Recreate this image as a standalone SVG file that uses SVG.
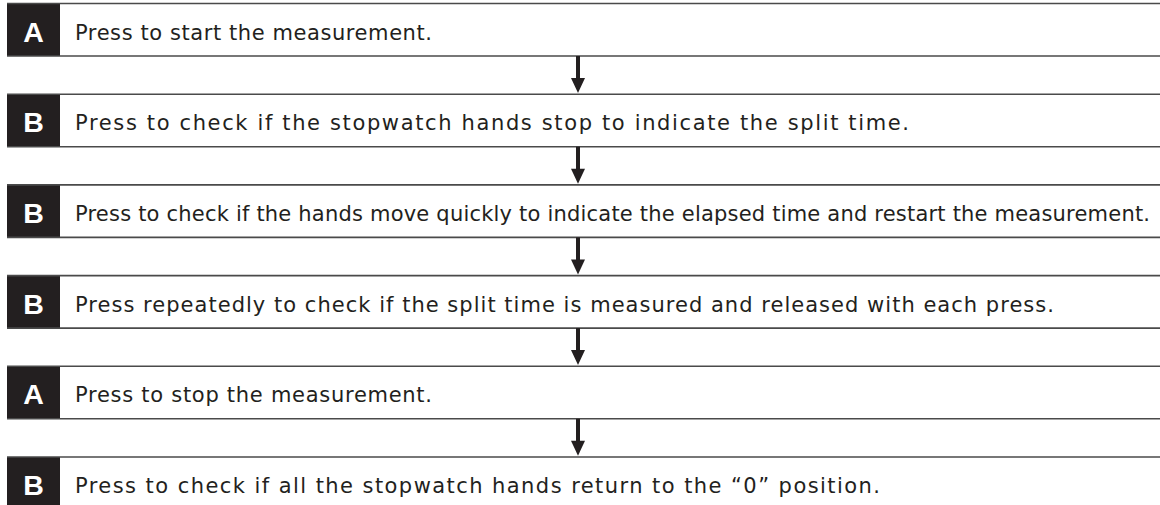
<svg xmlns="http://www.w3.org/2000/svg" width="1160" height="505" viewBox="0 0 1160 505">
<style>
.rule{stroke:#4a4a4a;stroke-width:1.6;fill:none}
.tag{fill:#231f20}
.tl{font-family:"Liberation Sans",Arial,sans-serif;font-weight:bold;font-size:28.5px;fill:#fff;text-anchor:middle}
.tx{font-family:"DejaVu Sans","Liberation Sans",sans-serif;font-size:21px;fill:#231f20}
.shaft{stroke:#231f20;stroke-width:4}
.head{fill:#231f20}
</style>
<rect width="1160" height="505" fill="#fff"/>
<g id="step1" transform="translate(0,3.5)">
<rect class="tag" x="7" y="0" width="53" height="52.5"/>
<line class="rule" x1="7" y1="0" x2="1160" y2="0"/><line class="rule" x1="7" y1="52.5" x2="1160" y2="52.5"/>
<text class="tl" x="33.5" y="38">A</text>
<text class="tx" x="75" y="36" textLength="357" lengthAdjust="spacing">Press to start the measurement.</text>
</g>
<g id="step2" transform="translate(0,94.2)">
<rect class="tag" x="7" y="0" width="53" height="52.5"/>
<line class="rule" x1="7" y1="0" x2="1160" y2="0"/><line class="rule" x1="7" y1="52.5" x2="1160" y2="52.5"/>
<text class="tl" x="33.5" y="38">B</text>
<text class="tx" x="75" y="36" textLength="834" lengthAdjust="spacing">Press to check if the stopwatch hands stop to indicate the split time.</text>
</g>
<g id="step3" transform="translate(0,184.9)">
<rect class="tag" x="7" y="0" width="53" height="52.5"/>
<line class="rule" x1="7" y1="0" x2="1160" y2="0"/><line class="rule" x1="7" y1="52.5" x2="1160" y2="52.5"/>
<text class="tl" x="33.5" y="38">B</text>
<text class="tx" x="75" y="36" textLength="1075" lengthAdjust="spacing">Press to check if the hands move quickly to indicate the elapsed time and restart the measurement.</text>
</g>
<g id="step4" transform="translate(0,275.6)">
<rect class="tag" x="7" y="0" width="53" height="52.5"/>
<line class="rule" x1="7" y1="0" x2="1160" y2="0"/><line class="rule" x1="7" y1="52.5" x2="1160" y2="52.5"/>
<text class="tl" x="33.5" y="38">B</text>
<text class="tx" x="75" y="36" textLength="979" lengthAdjust="spacing">Press repeatedly to check if the split time is measured and released with each press.</text>
</g>
<g id="step5" transform="translate(0,366.3)">
<rect class="tag" x="7" y="0" width="53" height="52.5"/>
<line class="rule" x1="7" y1="0" x2="1160" y2="0"/><line class="rule" x1="7" y1="52.5" x2="1160" y2="52.5"/>
<text class="tl" x="33.5" y="38">A</text>
<text class="tx" x="75" y="36" textLength="357" lengthAdjust="spacing">Press to stop the measurement.</text>
</g>
<g id="step6" transform="translate(0,457)">
<rect class="tag" x="7" y="0" width="53" height="52.5"/>
<line class="rule" x1="7" y1="0" x2="1160" y2="0"/><line class="rule" x1="7" y1="52.5" x2="1160" y2="52.5"/>
<text class="tl" x="33.5" y="38">B</text>
<text class="tx" x="75" y="36" textLength="805" lengthAdjust="spacing">Press to check if all the stopwatch hands return to the “0” position.</text>
</g>
<defs>
<g id="arrow"><line class="shaft" x1="578" y1="0" x2="578" y2="23"/><polygon class="head" points="571,22 585,22 578,37"/></g>
</defs>
<g id="connectors">
<use href="#arrow" y="56"/>
<use href="#arrow" y="146.7"/>
<use href="#arrow" y="237.4"/>
<use href="#arrow" y="328.1"/>
<use href="#arrow" y="418.8"/>
</g>
</svg>
